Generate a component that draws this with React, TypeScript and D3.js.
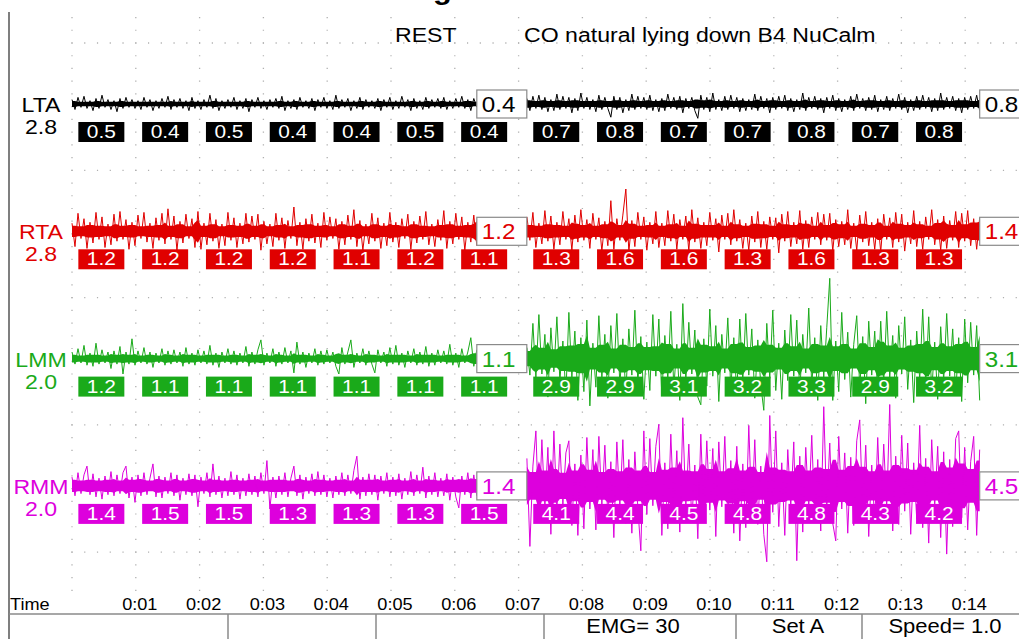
import * as d3 from "d3";
import { useEffect, useRef } from "react";

const W = 1019;
const H = 639;
const FONT = "'Liberation Sans', Arial, Helvetica, sans-serif";
const SX = 1.1; // the screenshot text is a bit wide

// channels
const channels = ["LTA", "RTA", "LMM", "RMM"];
const channelScales = ["2.8", "2.8", "2.0", "2.0"];
const channelColors = ["#000000", "#e00000", "#1aaa1a", "#dd00dd"];
const channelGain = [1.1, 0.9, 1.1, 1.1]; // px per tenth uV on screen

// two recordings shown back to back
const segmentNames = ["REST", "CO natural lying down B4 NuCalm"];
const segmentStarts = [0, 7.13]; // seconds
const SAMPLE_DT = 0.047; // seconds between samples

const timeLabels = ["0:01", "0:02", "0:03", "0:04", "0:05", "0:06", "0:07", "0:08", "0:09", "0:10", "0:11", "0:12", "0:13", "0:14"];

// raw trace samples, tenths of a microvolt
const ltaRest = [
  4,-5,6,-3,7,-4,3,-6,5,-4,8,-3,4,-5,3,-7,5,-4,6,-3,
  4,-4,3,-5,6,-3,4,-6,3,-4,5,-3,7,-5,4,-3,5,-4,3,-6,
  6,-4,3,-5,4,-3,8,-4,5,-6,3,-4,4,-3,6,-5,3,-4,5,-7,
  4,-3,6,-4,3,-5,4,-3,5,-4,7,-6,3,-4,4,-5,6,-3,3,-4,
  5,-6,4,-3,6,-4,3,-5,8,-4,4,-3,5,-6,3,-4,6,-5,4,-3,
  3,-4,5,-6,4,-3,6,-5,3,-4,7,-3,4,-6,5,-4,3,-5,6,-4,
  4,-3,5,-4,6,-5,3,-4,5,-3,7,-4,4,-6,5,-3,
];
const ltaNucalm = [
  5,-6,7,-4,8,-5,6,-7,4,-6,9,-5,7,-4,6,-8,5,-6,10,-4,
  6,-5,4,-7,8,-5,6,-4,-12,7,-5,6,-8,4,-6,9,-5,7,-4,6,
  -5,8,-6,4,-7,5,-6,9,-4,6,-5,7,-8,5,-4,6,-6,-13,8,-5,
  6,-7,10,-5,4,-6,7,-5,8,-4,6,-7,5,-6,4,-5,9,-6,7,-4,
  5,-8,6,-5,7,-4,8,-6,5,-7,4,-5,10,-6,6,-4,7,-5,5,-8,
  6,-4,8,-6,5,-7,4,-5,7,-6,9,-4,5,-6,6,-5,8,-7,4,-5,
  7,-6,5,-4,9,-5,6,-8,4,-6,7,-5,8,-4,6,-7,5,-6,10,-5,
  6,-4,7,-6,5,-8,6,-5,7,-4,8,-6,
];
const rtaRest = [
  9,-17,20,-8,14,-19,10,-13,21,-9,16,-18,8,-15,19,-11,22,-9,13,-20,
  10,-16,18,-8,21,-12,9,-19,15,-10,20,-14,25,-9,17,-21,11,-13,19,-8,
  14,-18,22,-20,9,-15,20,-11,13,-19,8,-16,21,-10,15,-18,9,-14,20,-12,
  17,-9,19,-21,11,-14,8,-17,20,-10,15,-19,12,-8,27,-16,10,-20,14,-11,
  19,-13,9,-18,21,-10,16,-8,14,-20,11,-15,18,-9,24,-17,12,-21,8,-14,
  20,-11,15,-19,9,-16,21,-12,10,-18,14,-8,19,-20,11,-13,17,-9,22,-15,
  8,-17,13,-10,23,-19,11,-14,20,-9,16,-21,10,-12,18,-16,
];
const rtaNucalm = [
  16,-10,21,-18,9,-14,23,-11,17,-20,10,-15,22,-9,14,-21,18,-12,24,-10,
  13,-19,20,-9,15,-22,11,-16,34,-20,14,-10,18,47,-23,12,-17,21,-9,16,
  -21,10,-14,22,-18,9,-16,23,-11,19,-20,13,-9,17,-22,24,-12,15,-19,10,
  -16,21,-10,14,-23,18,-9,20,-15,24,-11,13,-19,9,-21,17,-12,22,-18,11,
  -20,16,-9,15,-24,19,-11,22,-17,10,-14,23,-20,12,-18,16,-9,21,-15,19,
  -10,20,-22,13,-17,11,-15,24,-19,9,-21,18,-12,22,-16,10,-20,14,-23,19,
  -9,15,-18,21,-12,19,-22,10,-14,23,-17,11,-20,16,-9,24,-15,13,-21,17,
  -19,12,-10,22,-18,20,-11,23,-16,14,-20,15,
];
const lmmRest = [
  6,-5,9,-4,12,-6,5,-7,14,-5,8,-4,6,-9,7,-5,11,-14,6,-5,
  18,-6,7,-4,10,-5,6,-8,5,-4,9,-6,7,-5,8,-4,6,-7,10,-5,
  5,-6,8,-4,7,-5,12,-6,5,-8,6,-4,9,-5,7,-6,5,-4,11,-7,
  6,-5,8,17,-6,5,-4,9,-7,6,-5,10,-4,7,-13,15,-5,6,-8,5,
  -4,9,-6,7,-5,8,-4,6,-7,-14,10,-5,6,17,-8,5,-4,9,-6,7,
  -5,-13,8,-4,6,-7,10,-5,12,-6,5,-8,7,-4,9,-6,6,-5,11,-7,
  5,-6,8,-4,7,-5,13,-6,5,-8,9,-4,6,19,-7,8,
];
const lmmNucalm = [
  10,-15,32,-18,40,-14,22,-35,28,-12,38,-20,16,-33,42,-17,25,-38,19,-30,
  35,-43,14,-26,39,-18,22,-36,30,-13,41,-24,18,-32,27,-15,44,-22,20,-37,
  15,-29,40,-16,36,-34,21,-19,43,-27,13,-38,50,-20,33,-14,26,-35,-42,18,
  -25,45,-16,30,-39,22,-13,37,-28,19,-33,36,-21,41,-15,27,-36,17,-24,-47,
  32,-18,44,-29,14,-37,26,-20,40,-16,35,-31,22,-13,46,-25,19,-38,30,-17,
  28,73,-38,16,-30,42,-19,24,-35,13,39,-27,20,-41,34,-15,25,-33,34,-22,
  43,-17,21,-36,30,-14,38,-28,17,-40,25,-19,45,-23,38,-31,15,-37,29,-20,
  41,-16,27,-34,19,-39,36,-22,33,-15,30,-38,
];
const rmmRest = [
  8,-9,12,-7,10,18,-8,11,-10,7,-12,9,-8,13,-9,10,-7,12,18,-11,
  8,-15,10,-9,12,-8,7,20,-10,9,-11,8,-7,12,-9,10,-13,7,-8,11,
  -9,10,-19,8,-7,12,-10,20,-8,9,-11,7,-9,13,-8,10,-12,7,-9,11,
  -8,9,-10,12,-7,23,-21,8,-11,9,-8,12,-10,7,18,-9,10,-12,8,-7,
  11,-9,13,-8,10,-10,7,-11,9,-8,12,-9,10,-7,14,27,-12,8,-9,11,
  -8,10,-13,9,-7,12,-10,8,-9,11,-12,7,-8,13,-9,10,-7,17,-11,9,
  -8,12,-10,7,-9,11,-13,8,-10,-20,9,-8,12,-11,10,-9,
];
const rmmNucalm = [
  25,-55,18,50,-32,42,-20,35,-44,50,-22,38,-17,30,41,-36,20,-45,28,-39,
  44,-21,33,-40,45,-18,37,-30,22,-47,40,-19,42,-34,24,-43,31,-20,-59,50,
  -26,43,-18,36,56,-45,21,-39,47,-24,32,-42,62,-20,38,-33,19,-48,47,-28,
  41,-22,34,-46,40,-19,45,-31,23,-43,36,-50,20,-38,55,-25,42,-35,18,-44,
  -69,64,-24,50,-37,21,-45,33,-19,40,-68,27,-42,35,-20,46,-30,24,-41,72,
  -22,39,-34,-50,45,-21,30,-43,26,-36,41,60,-25,37,-46,19,-33,44,-28,38,
  -20,74,-41,27,-35,46,-23,39,-44,21,-30,55,-38,25,-52,42,-19,36,-47,31,
  -62,24,-37,43,50,-29,35,-40,22,45,-45,33,
];

// RMS of each whole recording
const ltaMeans = [0.4, 0.8];
const rtaMeans = [1.2, 1.4];
const lmmMeans = [1.1, 3.1];
const rmmMeans = [1.4, 4.5];

// RMS per second
const ltaRestSec = [0.5, 0.4, 0.5, 0.4, 0.4, 0.5, 0.4];
const ltaNucalmSec = [0.7, 0.8, 0.7, 0.7, 0.8, 0.7, 0.8];
const rtaRestSec = [1.2, 1.2, 1.2, 1.2, 1.1, 1.2, 1.1];
const rtaNucalmSec = [1.3, 1.6, 1.6, 1.3, 1.6, 1.3, 1.3];
const lmmRestSec = [1.2, 1.1, 1.1, 1.1, 1.1, 1.1, 1.1];
const lmmNucalmSec = [2.9, 2.9, 3.1, 3.2, 3.3, 2.9, 3.2];
const rmmRestSec = [1.4, 1.5, 1.5, 1.3, 1.3, 1.3, 1.5];
const rmmNucalmSec = [4.1, 4.4, 4.5, 4.8, 4.8, 4.3, 4.2];

const samples = [[ltaRest, ltaNucalm], [rtaRest, rtaNucalm], [lmmRest, lmmNucalm], [rmmRest, rmmNucalm]];
const means = [ltaMeans, rtaMeans, lmmMeans, rmmMeans];
const perSecond = [[ltaRestSec, ltaNucalmSec], [rtaRestSec, rtaNucalmSec], [lmmRestSec, lmmNucalmSec], [rmmRestSec, rmmNucalmSec]];

const footerCells = [
  { text: "EMG= 30", x: 633 },
  { text: "Set A", x: 798 },
  { text: "Speed= 1.0", x: 945 },
];
const footerDividers = [228, 376, 544, 736, 862];

function addText(g, str, x, y, size, fill, anchor = "start", weight = "normal") {
  return g.append("text")
    .attr("transform", `translate(${x},${y}) scale(${SX},1)`)
    .attr("font-family", FONT)
    .attr("font-size", size)
    .attr("font-weight", weight)
    .attr("fill", fill)
    .attr("text-anchor", anchor)
    .text(str);
}

const App = () => {
  const ref = useRef(null);

  useEffect(() => {
    const svg = d3.select(ref.current);
    svg.selectAll("*").remove();
    svg.append("rect").attr("width", W).attr("height", H).attr("fill", "#fff");

    const x = d3.scaleLinear().domain([0, 15]).range([72, 72 + 63.8 * 15]);
    const rowPitch = 127.3;
    const gridTop = 43;
    const centers = channels.map((_, i) => 104 + rowPitch * i);

    // dotted grid
    const grid = svg.append("g").attr("stroke", "#b0b0b0").attr("stroke-width", 1.3);
    d3.range(0, 15).forEach(t => {
      grid.append("line")
        .attr("x1", x(t)).attr("x2", x(t))
        .attr("y1", gridTop - 2 * rowPitch / 10 - 0.6).attr("y2", 594)
        .attr("stroke-dasharray", `1.2 ${rowPitch / 10 - 1.2}`);
    });
    d3.range(5).forEach(r => {
      const y = gridTop + rowPitch * r;
      const step = (x(1) - x(0)) / 5;
      grid.append("line")
        .attr("x1", x(0) - 0.6).attr("x2", W)
        .attr("y1", y).attr("y2", y)
        .attr("stroke-dasharray", `1.2 ${step - 1.2}`);
    });

    // left border
    svg.append("line").attr("x1", 9).attr("x2", 9).attr("y1", 12).attr("y2", H)
      .attr("stroke", "#555").attr("stroke-width", 1.5);

    // cut off title
    addText(svg, "g", 433, -1, 28, "#000", "start", "bold");

    // recording names
    addText(svg, segmentNames[0], 395, 42, 21, "#000");
    addText(svg, segmentNames[1], 524, 42, 21, "#000");

    channels.forEach((name, ci) => {
      const c = centers[ci];
      const color = channelColors[ci];
      const pp = channelGain[ci];
      const y = d3.scaleLinear().domain([-100, 100]).range([c + 100 * pp, c - 100 * pp]);
      const g = svg.append("g");

      addText(g, name, 41, c + 8, 21, color, "middle");
      addText(g, channelScales[ci], 41, c + 30, 21, color, "middle");

      samples[ci].forEach((arr, si) => {
        const t0 = segmentStarts[si];
        const tx = (i) => x(t0 + i * SAMPLE_DT);
        // dense core: envelope of neighbouring samples
        const core = (i) => 0.7 * Math.min(
          Math.abs(arr[i]),
          Math.abs(arr[Math.max(0, i - 1)]),
          Math.abs(arr[Math.min(arr.length - 1, i + 1)])
        );
        const area = d3.area()
          .x((d, i) => tx(i))
          .y0((d, i) => y(-core(i)))
          .y1((d, i) => y(core(i)));
        g.append("path")
          .attr("d", area(arr))
          .attr("fill", color);
        const line = d3.line()
          .x((d, i) => tx(i))
          .y(d => y(d));
        g.append("path")
          .attr("d", line(arr))
          .attr("fill", "none")
          .attr("stroke", color)
          .attr("stroke-width", 1)
          .attr("stroke-linejoin", "miter");
      });

      samples[ci].forEach((arr, si) => {
        const t0 = segmentStarts[si];
        const tEnd = t0 + (arr.length - 1) * SAMPLE_DT;
        const bx = x(tEnd);
        // summary box
        g.append("rect")
          .attr("x", bx).attr("y", c - 14)
          .attr("width", 50).attr("height", 28)
          .attr("fill", "#fff").attr("stroke", "#8a8a8a").attr("stroke-width", 1.2);
        addText(g, means[ci][si].toFixed(1), bx + 5, c + 8, 22, color);

        // per second boxes
        perSecond[ci][si].forEach((v, k) => {
          const cx = x(t0 + 0.46 + k);
          g.append("rect")
            .attr("x", cx - 23).attr("y", c + 18)
            .attr("width", 46).attr("height", 20)
            .attr("fill", color);
          addText(g, v.toFixed(1), cx, c + 34, 19, "#fff", "middle");
        });
      });
    });

    // time axis
    addText(svg, "Time", 10, 610, 16.5, "#000");
    timeLabels.forEach((lab, i) => {
      addText(svg, lab, x(i + 1) + 4, 610, 16.5, "#000", "middle");
    });

    // footer table
    const foot = svg.append("g").attr("stroke", "#8a8a8a").attr("stroke-width", 1.5);
    foot.append("line").attr("x1", 9).attr("x2", W).attr("y1", 614).attr("y2", 614);
    footerDividers.forEach(dx => {
      foot.append("line").attr("x1", dx).attr("x2", dx).attr("y1", 614).attr("y2", H);
    });
    footerCells.forEach(d => {
      addText(svg, d.text, d.x, 633, 20, "#000", "middle");
    });
  }, []);

  return (
    <div>
      <style>{`body{margin:0}`}</style>
      <svg ref={ref} width={W} height={H} style={{ display: "block" }}></svg>
    </div>
  );
};

export default App;
